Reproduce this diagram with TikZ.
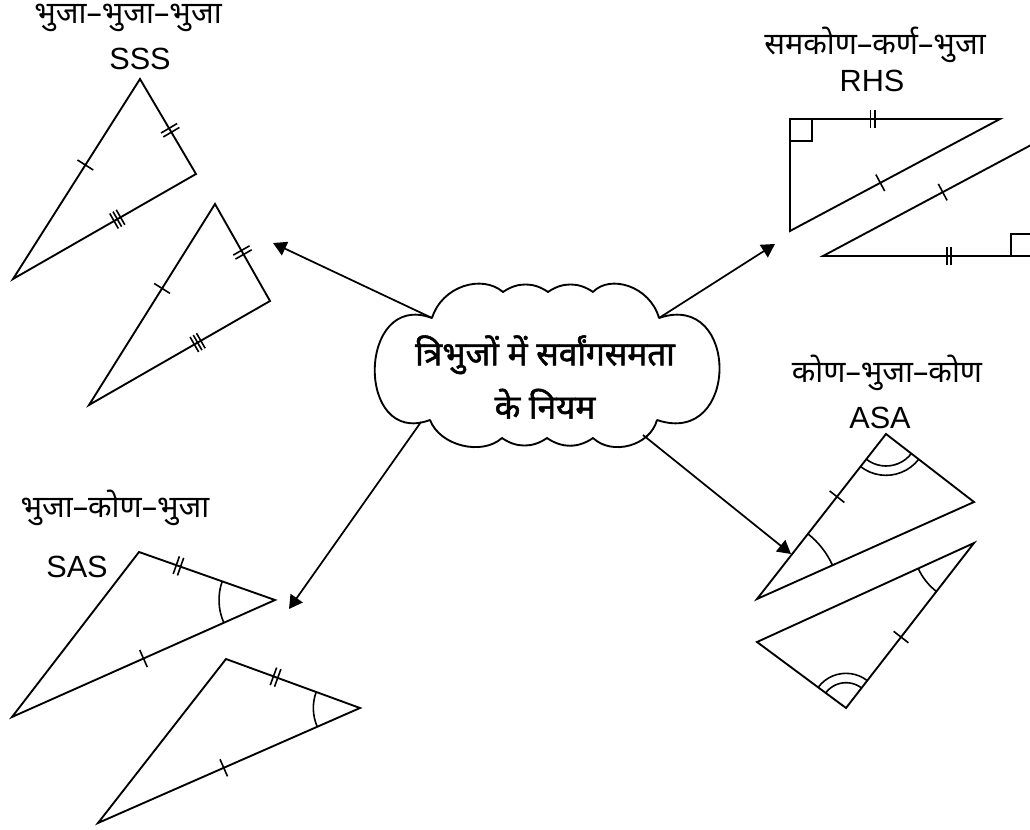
\documentclass[tikz,border=0pt]{standalone}
\usepackage{fontspec}
\setmainfont{Liberation Sans}
\newfontfamily\dev[Script=Devanagari]{Noto Sans}
\newfontfamily\devb[Script=Devanagari,FakeBold=1.6]{Noto Sans}
\usetikzlibrary{arrows.meta,decorations.markings,angles}
\tikzset{
  tri/.style={line width=1.4pt,line join=miter},
  tk/.style={line width=1.2pt},
  t1/.style={postaction={decorate,decoration={markings,mark=at position #1 with {\draw[tk] (0pt,-7pt) -- (0pt,7pt);}}}},
  t2/.style={postaction={decorate,decoration={markings,mark=at position #1 with {\draw[tk] (-1.7pt,-7pt) -- (-1.7pt,7pt) (1.7pt,-7pt) -- (1.7pt,7pt);}}}},
  t3/.style={postaction={decorate,decoration={markings,mark=at position #1 with {\draw[tk] (-2.8pt,-6.5pt) -- (-2.8pt,6.5pt) (0pt,-6.5pt) -- (0pt,6.5pt) (2.8pt,-6.5pt) -- (2.8pt,6.5pt);}}}},
  arc/.style={draw,line width=1.2pt,angle radius=#1},
  arr/.style={line width=1.3pt,-{Triangle[length=10pt,width=11pt]}},
  hin/.style={font=\dev\fontsize{23}{26}\selectfont,inner sep=0pt},
  lat/.style={font=\fontsize{23}{26}\selectfont,inner sep=0pt},
  cloudline/.style={line width=1.4pt,line join=round},
}
\begin{document}
\begin{tikzpicture}[x=0.75pt,y=-0.75pt]
\useasboundingbox (0,0) rectangle (1030,830);
\clip (0,0) rectangle (1030,830);

% cloud outline
\draw[cloudline] (432,318) .. controls (442,286) and (482,274) .. (503,292)
  to[bend left=35] (548,292) to[bend left=35] (593,292)
  .. controls (610,274) and (650,286) .. (659,318)
  .. controls (740,290) and (740,448) .. (657,420)
  .. controls (650,446) and (612,456) .. (593,438)
  to[bend left=35] (547,438) to[bend left=35] (502,438)
  .. controls (482,456) and (440,446) .. (430,420)
  .. controls (355,448) and (357,290) .. cycle;
\node[align=center,inner sep=0pt,font=\devb\fontsize{25}{40}\selectfont] (cloud) at (545,377)
  {त्रिभुजों में सर्वांगसमता\\के नियम};

% labels
\node[hin] (lSSSh) at (128,18) {भुजा–भुजा–भुजा};
\node[lat] (lSSS) at (140,59) {SSS};
\node[hin] (lRHSh) at (875,45) {समकोण–कर्ण–भुजा};
\node[lat] (lRHS) at (872,81) {RHS};
\node[hin] (lASAh) at (887,373) {कोण–भुजा–कोण};
\node[lat] (lASA) at (880,418) {ASA};
\node[hin] (lSASh) at (115,508) {भुजा–कोण–भुजा};
\node[lat] (lSAS) at (77,567) {SAS};

% SSS
\coordinate (a1) at (140,79); \coordinate (b1) at (196,174); \coordinate (c1) at (13,279);
\draw[tri] (a1) -- (b1) -- (c1) -- cycle;
\path[t1=0.57] (c1) -- (a1);
\path[t2=0.54] (a1) -- (b1);
\path[t3=0.57] (c1) -- (b1);
\coordinate (a2) at (215,204); \coordinate (b2) at (270,301); \coordinate (c2) at (89,405);
\draw[tri] (a2) -- (b2) -- (c2) -- cycle;
\path[t1=0.58] (c2) -- (a2);
\path[t2=0.5] (a2) -- (b2);
\path[t3=0.6] (c2) -- (b2);

% RHS
\coordinate (r1) at (790,119); \coordinate (h1) at (1000,119); \coordinate (v1) at (790,231);
\draw[tri] (r1) -- (h1) -- (v1) -- cycle;
\draw[tk] (790,141) -- (812,141) -- (812,119);
\path[t2=0.395] (r1) -- (h1);
\path[t1=0.43] (v1) -- (h1);
\coordinate (r2) at (1033,256); \coordinate (l2) at (823,256); \coordinate (u2) at (1033,144);
\draw[tri] (r2) -- (l2) -- (u2) -- cycle;
\draw[tk] (1011,256) -- (1011,234) -- (1033,234);
\path[t2=0.6] (l2) -- (r2);
\path[t1=0.57] (l2) -- (u2);

% ASA
\coordinate (p1) at (886,434); \coordinate (q1) at (974,502); \coordinate (s1) at (757,599);
\draw[tri] (p1) -- (q1) -- (s1) -- cycle;
\path[t1=0.62] (s1) -- (p1);
\pic[arc=24pt] {angle=s1--p1--q1};
\pic[arc=31pt] {angle=s1--p1--q1};
\pic[arc=62pt] {angle=q1--s1--p1};
\coordinate (e2) at (974,543); \coordinate (f2) at (757,642); \coordinate (g2) at (846,708);
\draw[tri] (e2) -- (f2) -- (g2) -- cycle;
\path[t1=0.43] (g2) -- (e2);
\pic[arc=46pt] {angle=f2--e2--g2};
\pic[arc=19pt] {angle=e2--g2--f2};
\pic[arc=26pt] {angle=e2--g2--f2};

% SAS
\coordinate (m1) at (139,552); \coordinate (n1) at (275,600); \coordinate (o1) at (12,717);
\draw[tri] (m1) -- (n1) -- (o1) -- cycle;
\path[t2=0.29] (m1) -- (n1);
\path[t1=0.5] (o1) -- (n1);
\pic[arc=42pt] {angle=m1--n1--o1};
\coordinate (m2) at (226,659); \coordinate (n2) at (360,708); \coordinate (o2) at (98,823);
\draw[tri] (m2) -- (n2) -- (o2) -- cycle;
\path[t2=0.37] (m2) -- (n2);
\path[t1=0.48] (o2) -- (n2);
\pic[arc=35pt] {angle=m2--n2--o2};

% arrows
\coordinate (sSSS) at (432,318);
\coordinate (sRHS) at (659,318);
\coordinate (sSAS) at (421,422);
\coordinate (sASA) at (643,435);
\coordinate (tSSS) at (273,243);
\coordinate (tRHS) at (775,244);
\coordinate (tSAS) at (289,609);
\coordinate (tASA) at (791,554);
\draw[arr] (sSSS) -- (tSSS);
\draw[arr] (sRHS) -- (tRHS);
\draw[arr] (sSAS) -- (tSAS);
\draw[arr] (sASA) -- (tASA);
\end{tikzpicture}
\end{document}
